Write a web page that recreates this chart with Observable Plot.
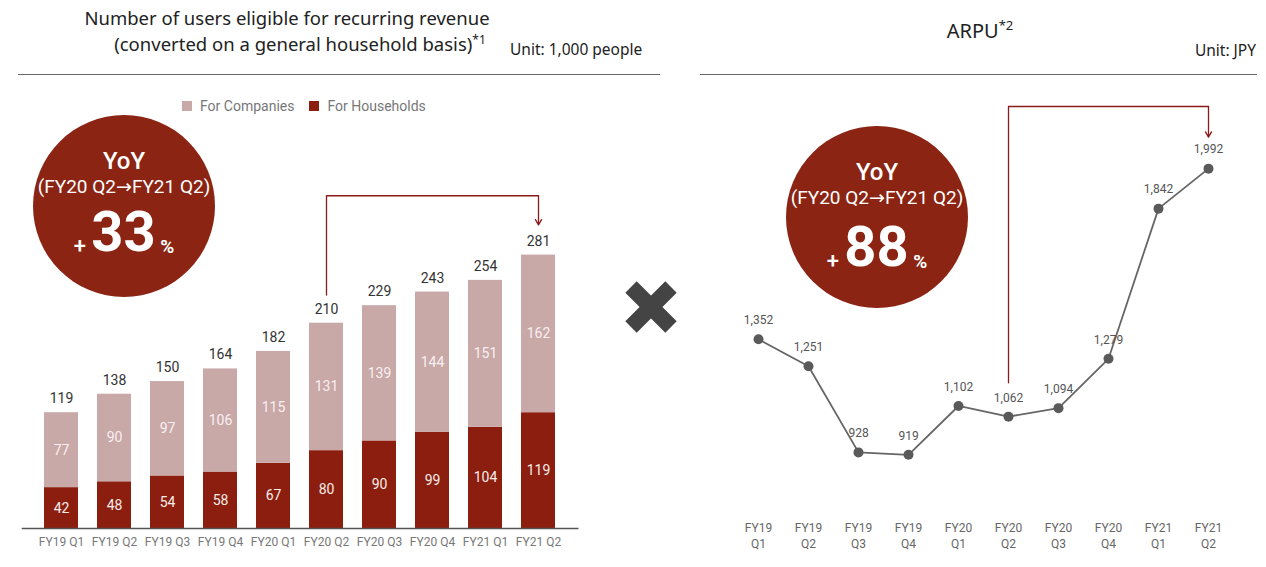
<!DOCTYPE html>
<html>
<head>
<meta charset="utf-8">
<script src="https://cdn.jsdelivr.net/npm/d3@7"></script>
<script src="https://cdn.jsdelivr.net/npm/@observablehq/plot@0.6"></script>
<style>
  html, body { margin: 0; padding: 0; background: #fff; }
  #root { position: relative; width: 1266px; height: 567px; overflow: hidden; font-family: "Noto Sans", sans-serif; }
  .abs { position: absolute; }
  .title { color: #222; font-size: 18.5px; white-space: nowrap; }
  .unit { color: #222; font-size: 15.5px; white-space: nowrap; }
  .rule { height: 0; border-top: 1.5px solid #666; }
  .legend { font-family: Roboto, sans-serif; font-size: 14px; color: #777; white-space: nowrap; }
  .sw { display: inline-block; width: 10px; height: 10px; vertical-align: 0px; margin-right: 8px; }
  .circle { border-radius: 50%; background: #8b2413; color: #fff; font-family: Roboto, "Liberation Sans", sans-serif; }
  .circle div { position: absolute; left: 0; width: 100%; text-align: center; transform: translateY(-50%); white-space: nowrap; line-height: 1; }
  .arr { font-family: "DejaVu Sans", sans-serif; font-weight: normal; }
  sup { font-size: 0.65em; }
</style>
</head>
<body>
<div id="root">
  <div id="left" class="abs" style="left:0;top:0"></div>
  <div id="right" class="abs" style="left:680px;top:0"></div>

  <div class="abs title" style="left:0;width:574px;top:5px;text-align:center">Number of users eligible for recurring revenue</div>
  <div class="abs title" style="left:0;width:600px;top:31px;text-align:center">(converted on a general household basis)<sup>*1</sup></div>
  <div class="abs unit" style="left:510px;top:38px">Unit: 1,000 people</div>
  <div class="abs rule" style="left:18px;top:74px;width:642px"></div>

  <div class="abs title" style="left:880px;width:200px;top:16px;text-align:center;font-size:20px">ARPU<sup>*2</sup></div>
  <div class="abs unit" style="right:10px;top:39px">Unit: JPY</div>
  <div class="abs rule" style="left:700px;top:74px;width:557px"></div>

  <div id="legend" class="abs legend" style="left:182px;top:98px"></div>

  <div class="abs circle" style="left:33px;top:115px;width:182px;height:182px">
    <div style="top:46px;font-size:24px;font-weight:500">YoY</div>
    <div style="top:71px;font-size:19px">(FY20 Q2<span class="arr">→</span>FY21 Q2)</div>
    <div style="top:117px;font-size:56px;font-weight:bold"><span style="font-size:22px;font-weight:500;vertical-align:-2px">+ </span>33<span style="font-size:19px;vertical-align:-2px"> %</span></div>
  </div>

  <div class="abs circle" style="left:786px;top:126px;width:182px;height:182px">
    <div style="top:46px;font-size:24px;font-weight:500">YoY</div>
    <div style="top:71px;font-size:19px">(FY20 Q2<span class="arr">→</span>FY21 Q2)</div>
    <div style="top:121px;font-size:56px;font-weight:bold"><span style="font-size:22px;font-weight:500;vertical-align:-2px">+ </span>88<span style="font-size:19px;vertical-align:-2px"> %</span></div>
  </div>

  <svg class="abs" style="left:621px;top:277px" width="60" height="60">
    <line x1="10" y1="10" x2="50" y2="50" stroke="#444" stroke-width="16"/>
    <line x1="50" y1="10" x2="10" y2="50" stroke="#444" stroke-width="16"/>
  </svg>
</div>
<script>
// ---------- Data ----------
const quarters = ["FY19 Q1","FY19 Q2","FY19 Q3","FY19 Q4","FY20 Q1","FY20 Q2","FY20 Q3","FY20 Q4","FY21 Q1","FY21 Q2"];
const households = [42, 48, 54, 58, 67, 80, 90, 99, 104, 119];
const companies  = [77, 90, 97, 106, 115, 131, 139, 144, 151, 162];
const totals     = [119, 138, 150, 164, 182, 210, 229, 243, 254, 281];
const arpu       = [1352, 1251, 928, 919, 1102, 1062, 1094, 1279, 1842, 1992];
const seriesNames = ["For Companies", "For Households"];
const colors = {"For Companies": "#c9a8a8", "For Households": "#8b1e0e"};

const accent = "#8b1a1a";

// ---------- Left: stacked bars ----------
const rows = quarters.map((q, i) => ({q, h: households[i], c: companies[i], t: totals[i]}));
const fromIdx = 5, toIdx = 9;
const maxT = d3.max(totals);
const bracketL = [
  {x: quarters[fromIdx], y: totals[fromIdx] + 30},
  {x: quarters[fromIdx], y: maxT + 61},
  {x: quarters[toIdx], y: maxT + 61}
];

const left = Plot.plot({
  width: 600, height: 567,
  marginLeft: 21.7, marginRight: 21.5, marginTop: 138.8, marginBottom: 39,
  style: {fontFamily: "Roboto, sans-serif", background: "transparent"},
  x: {domain: quarters, padding: 0.35, label: null},
  y: {domain: [0, 400], axis: null},
  marks: [
    Plot.barY(rows, {x: "q", y1: 0, y2: "h", fill: colors["For Households"]}),
    Plot.barY(rows, {x: "q", y1: "h", y2: d => d.h + d.c, fill: colors["For Companies"]}),
    Plot.text(rows, {x: "q", y: d => d.h / 2, text: d => String(d.h), fill: "#f6ecea", fontSize: 14}),
    Plot.text(rows, {x: "q", y: d => d.h + d.c / 2, text: d => String(d.c), fill: "#f8f0f0", fontSize: 14}),
    Plot.text(rows, {x: "q", y: d => d.h + d.c, text: d => String(d.t), dy: -14, fill: "#333", fontSize: 14}),
    Plot.ruleY([0], {stroke: "#555", strokeWidth: 1.3}),
    Plot.axisX({tickSize: 0, tickPadding: 9, fontSize: 12, color: "#777"}),
    Plot.line(bracketL, {x: "x", y: "y", stroke: accent, strokeWidth: 1.3}),
    Plot.arrow([{x: quarters[toIdx], y1: maxT + 61, y2: maxT + 31}], {x1: "x", x2: "x", y1: "y1", y2: "y2", stroke: accent, strokeWidth: 1.3, headLength: 7})
  ]
});
document.getElementById("left").appendChild(left);

// legend
const lg = document.getElementById("legend");
seriesNames.forEach((n, i) => {
  const s = document.createElement("span");
  s.style.marginRight = i === 0 ? "15px" : "0";
  s.innerHTML = `<span class="sw" style="background:${colors[n]}"></span>${n}`;
  lg.appendChild(s);
});

// ---------- Right: ARPU line ----------
const pts = quarters.map((q, i) => ({q, v: arpu[i]}));
const maxA = d3.max(arpu);
const bracketR = [
  {x: quarters[fromIdx], y: arpu[fromIdx] + 127},
  {x: quarters[fromIdx], y: maxA + 233},
  {x: quarters[toIdx], y: maxA + 233}
];
const right = Plot.plot({
  width: 586, height: 567,
  marginLeft: 77, marginRight: 58, marginTop: 86, marginBottom: 54.3,
  style: {fontFamily: "Roboto, sans-serif", background: "transparent"},
  x: {type: "point", domain: quarters, padding: 0, label: null},
  y: {domain: [700, 2300], axis: null},
  marks: [
    Plot.line(pts, {x: "q", y: "v", stroke: "#666", strokeWidth: 1.8}),
    Plot.dot(pts, {x: "q", y: "v", r: 5, fill: "#5a5a5a"}),
    Plot.text(pts, {x: "q", y: "v", text: d => d3.format(",")(d.v), dy: -19, fill: "#555", fontSize: 12}),
    Plot.axisX({tickSize: 0, tickPadding: 8, fontSize: 12, color: "#666", lineHeight: 1.3, tickFormat: d => d.replace(" ", "\n")}),
    Plot.line(bracketR, {x: "x", y: "y", stroke: accent, strokeWidth: 1.3}),
    Plot.arrow([{x: quarters[toIdx], y1: maxA + 233, y2: maxA + 118}], {x1: "x", x2: "x", y1: "y1", y2: "y2", stroke: accent, strokeWidth: 1.3, headLength: 7})
  ]
});
document.getElementById("right").appendChild(right);
</script>
</body>
</html>
